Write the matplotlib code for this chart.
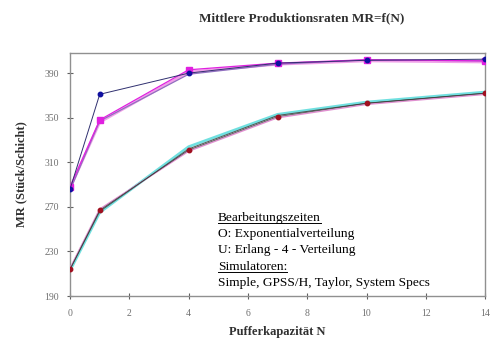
import matplotlib
matplotlib.use("Agg")
import matplotlib.pyplot as plt

plt.rcParams['font.family'] = ['Liberation Serif', 'DejaVu Serif']

# Pufferkapazitaet N
n_values = [0, 1, 4, 7, 10, 14]

# O: Exponentialverteilung (obere Kurven)
o_simple = [286, 371, 390, 399, 401.5, 402.5]
o_gpss = [288, 348, 393, 399, 402, 401]
o_taylor = [287, 346, 391, 398, 401, 400]
o_specs = [285, 347, 389, 398, 402, 401]

# U: Erlang-4-Verteilung (untere Kurven)
u_simple = [214, 267, 321, 351, 363, 372]
u_gpss = [213, 265, 324, 353, 364, 373]
u_taylor = [214, 266, 322, 352, 363, 372]
u_specs = [215, 268, 320, 350, 362, 371]

y_ticks = [190, 230, 270, 310, 350, 390]
x_ticks = [0, 2, 4, 6, 8, 10, 12, 14]

fig = plt.figure(figsize=(4.9, 3.38), dpi=100)
ax = fig.add_axes([0.143, 0.124, 0.847, 0.719])

# upper group
ax.plot(n_values, o_taylor, color="#f0a0e8", lw=2.0, zorder=2)
ax.plot(n_values, o_specs, color="#9070c0", lw=0.9, zorder=3)
ax.plot(n_values, o_gpss, color="#e020e0", lw=0.9, marker="s", ms=4, mfc="#e020e0", mec="#e020e0", zorder=4)
ax.plot(n_values, o_simple, color="#303070", lw=0.7, marker="o", ms=3.2, mfc="#1010a0", mec="#1010a0", zorder=5)

# lower group
ax.plot(n_values, u_gpss, color="#70e0e0", lw=2.0, zorder=2)
ax.plot(n_values, u_specs, color="#e090d0", lw=1.1, zorder=3)
ax.plot(n_values, u_taylor, color="#505050", lw=0.7, zorder=4)
ax.plot(n_values, u_simple, color="#404040", lw=0.5, marker="o", ms=3.2, mfc="#a01020", mec="#a01020", zorder=5)

ax.set_xlim(0, 14)
ax.set_ylim(190, 408)
ax.set_xticks(x_ticks)
ax.set_yticks(y_ticks)
ax.tick_params(direction="inout", length=4, width=0.8, colors="#606060", labelsize=7,
               labelcolor="#707070")
ax.tick_params(axis="x", pad=7)
ax.tick_params(axis="y", pad=6)
for sp in ax.spines.values():
    sp.set_color("#909090")
    sp.set_linewidth(1.0)

ax.set_xlabel("Pufferkapazität N", fontsize=9, fontweight="bold", color="#303030", labelpad=6)
ax.set_ylabel("MR (Stück/Schicht)", fontsize=9, fontweight="bold", color="#303030", labelpad=12)
fig.text(302 / 490, 1 - 18 / 338, "Mittlere Produktionsraten MR=f(N)", fontsize=9.5,
         fontweight="bold", color="#303030", ha="center", va="center")

lines = ["Bearbeitungszeiten", "O: Exponentialverteilung", "U: Erlang - 4 - Verteilung",
         "Simulatoren:", "Simple, GPSS/H, Taylor, System Specs"]
underlined = [0, 3]
x0 = 218 / 490
y_pix = [218, 234, 250, 267, 283]
fig.canvas.draw()
renderer = fig.canvas.get_renderer()
for i, (txt, yp) in enumerate(zip(lines, y_pix)):
    t = fig.text(x0, 1 - yp / 338, txt, fontsize=9.6, color="black", ha="left", va="center")
    if i in underlined:
        bb = t.get_window_extent(renderer=renderer).transformed(fig.transFigure.inverted())
        yl = bb.y0 + 0.004
        fig.add_artist(plt.Line2D([bb.x0, bb.x1], [yl, yl], transform=fig.transFigure,
                                  color="black", lw=0.7))

fig.savefig("out.png", dpi=100)
